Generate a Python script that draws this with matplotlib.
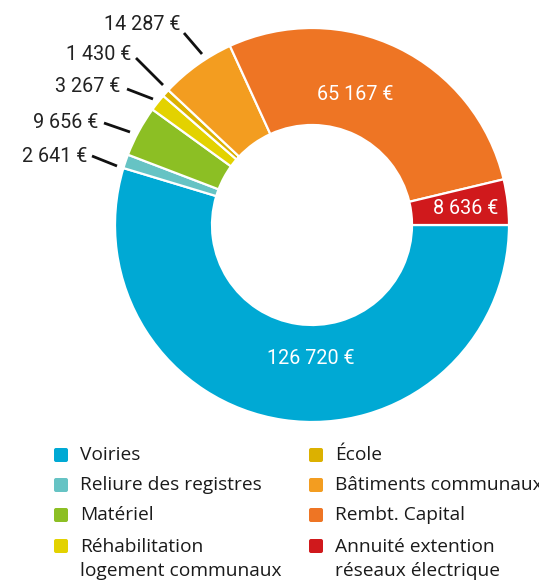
import matplotlib.pyplot as plt
from matplotlib.patches import FancyBboxPatch

W, H = 539, 583

labels = ["Voiries", "Reliure des registres", "Matériel",
          "Réhabilitation\nlogement communaux", "École",
          "Bâtiments communaux", "Rembt. Capital",
          "Annuité extention\nréseaux électrique"]
values = [126720, 2641, 9656, 3267, 1430, 14287, 65167, 8636]
colors = ["#00a9d4", "#66c3c4", "#8cbf24", "#e3d200", "#dcb100",
          "#f39d20", "#ee7524", "#d0191c"]


def fmt(v):
    return "{:,}".format(v).replace(",", " ") + " €"


def Y(py):
    # pixel row -> data y
    return H - py


fig = plt.figure(figsize=(W / 100, H / 100), dpi=100)
ax = fig.add_axes([0, 0, 1, 1])

ax.pie(values, colors=colors, startangle=0, counterclock=False,
       radius=197, center=(312, Y(225)),
       wedgeprops=dict(width=97, edgecolor="white", linewidth=1.6))
ax.set_xlim(0, W)
ax.set_ylim(0, H)
ax.set_aspect("equal", adjustable="box")
ax.axis("off")

# values written inside the ring
inside = {0: (311, 359), 6: (355, 94), 7: (466, 208)}
for i, (x, y) in inside.items():
    ax.text(x, Y(y), fmt(values[i]), color="white", fontsize=14.2,
            family="Roboto", ha="center", va="center")

# values outside with a leader line: (text right edge, text y, line start, line end)
outside = {
    5: (181, 25, (184, 33), (202, 54)),
    4: (131, 55, (136, 58), (163, 85)),
    3: (120, 87, (127, 89), (153, 99)),
    2: (98, 123, (104, 123), (130, 132)),
    1: (87, 157, (92, 156), (117, 166)),
}
for i, (tx, ty, p0, p1) in outside.items():
    ax.text(tx, Y(ty), fmt(values[i]), color="#222222", fontsize=14.2,
            family="Roboto", ha="right", va="center")
    ax.plot([p0[0], p1[0]], [Y(p0[1]), Y(p1[1])], color="#111111", lw=2,
            solid_capstyle="butt")

# legend drawn by hand, two columns
col_x = [53, 308]
row_y = [455, 485, 515, 546]
for i, (lab, c) in enumerate(zip(labels, colors)):
    cx = col_x[i // 4]
    ry = row_y[i % 4]
    ax.add_patch(FancyBboxPatch((cx + 1, Y(ry) - 7), 14, 14,
                                boxstyle="round,pad=0,rounding_size=2",
                                fc=c, ec="none"))
    ax.text(cx + 27, Y(ry) + 8.5, lab, fontsize=13.8, family="Open Sans",
            color="#1a1a1a", ha="left", va="top", linespacing=1.5)

fig.savefig("out.png", dpi=100)
